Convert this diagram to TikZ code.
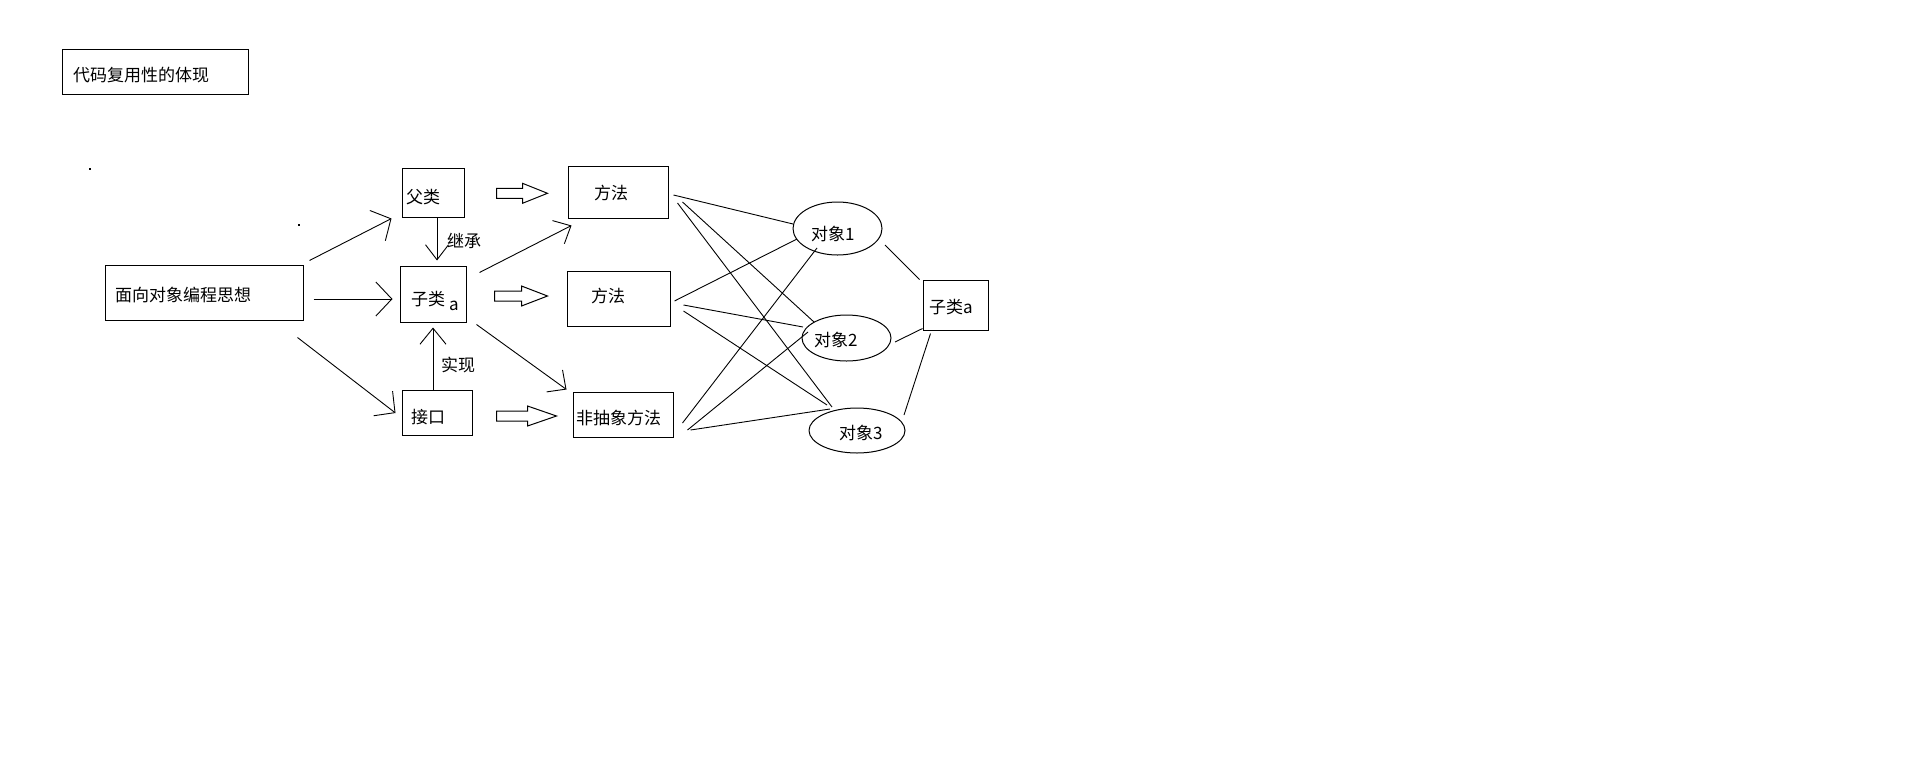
\documentclass[tikz,border=0pt]{standalone}
\usepackage{fontspec}
\setmainfont{Noto Sans CJK SC}
\usetikzlibrary{arrows.meta,calc,shapes.geometric}
\tikzset{pics/barrow/.style 2 args={code={\draw[line width=1pt] (0,-5) -- (#1,-5) -- (#1,-10) -- (#2,0) -- (#1,10) -- (#1,5) -- (0,5) -- cycle;}}}
\begin{document}
\begin{tikzpicture}[x=1pt,y=-1pt,
 box/.style={draw,line width=1pt,rectangle,inner sep=0pt},
 ell/.style={draw,line width=1pt,ellipse,inner sep=0pt},
 lbl/.style={anchor=base west,inner sep=0pt,font=\fontsize{17pt}{20pt}\selectfont},
 ln/.style={line width=0.9pt},
 arr/.style 2 args={ln,-{Straight Barb[length=#1pt,width=#2pt]}}]
\fill[white] (0,0) rectangle (1905,780);
\useasboundingbox (0,0) rectangle (1905,780);

% boxes
\node[box,minimum width=186pt,minimum height=45pt] (title) at (155,71.5) {};
\node[box,minimum width=62pt,minimum height=49pt] (fu) at (433,192.5) {};
\node[box,minimum width=198pt,minimum height=55pt] (mx) at (204,292.5) {};
\node[box,minimum width=66pt,minimum height=56pt] (zl) at (433,294) {};
\node[box,minimum width=70pt,minimum height=45pt] (jk) at (437,412.5) {};
\node[box,minimum width=100pt,minimum height=52pt] (m1) at (618,192) {};
\node[box,minimum width=103pt,minimum height=55pt] (m2) at (618.5,298.5) {};
\node[box,minimum width=100pt,minimum height=45pt] (m3) at (623,414.5) {};
\node[box,minimum width=65pt,minimum height=50pt] (zr) at (955.5,305) {};
\node[ell,minimum width=89pt,minimum height=53pt] (o1) at (837.5,228.5) {};
\node[ell,minimum width=89pt,minimum height=46pt] (o2) at (846.5,338) {};
\node[ell,minimum width=96pt,minimum height=45pt] (o3) at (857,430.5) {};

% texts
\node[lbl] (tTitle) at (73,81.5) {代码复用性的体现};
\node[lbl] (tFu) at (406,203.5) {父类};
\node[lbl] (tJc) at (447,247.5) {继承};
\node[lbl] (tMx) at (115,301) {面向对象编程思想};
\node[lbl] (tZl) at (411,305) {子类};
\node[lbl] (tZla) at (449,310) {a};
\node[lbl] (tSx) at (441,371) {实现};
\node[lbl] (tJk) at (411,423.5) {接口};
\node[lbl] (tM1) at (594,199) {方法};
\node[lbl] (tM2) at (591,302.5) {方法};
\node[lbl] (tM3) at (576,424) {非抽象方法};
\node[lbl] (tO1) at (811,240.5) {对象1};
\node[lbl] (tO2) at (814,346) {对象2};
\node[lbl] (tO3) at (839,439) {对象3};
\node[lbl] (tZr) at (929,313) {子类a};

% stray dots
\fill (89,168) rectangle (91,170);
\fill (298,224) rectangle (300,226);

% arrows
\draw[arr={15}{34}] ($(mx.north east)+(6,-4)$) -- ($(fu.south west)+(-10,1)$);
\draw[arr={16}{34}] ($(mx.east)+(10,6.5)$) -- ($(zl.west)+(-7,5)$);
\draw[arr={15}{31}] ($(mx.south east)+(-6,17)$) -- ($(jk.west)+(-6,0.5)$);
\draw[arr={15}{23}] ($(fu.south)+(4,0)$) -- ($(zl.north)+(4,-5)$);
\draw[arr={16}{26}] (jk.north -| zl.south) -- ($(zl.south)+(0,5)$);
\draw[arr={14}{26}] ($(zl.north east)+(13,7)$) -- ($(m1.south west)+(4,7)$);
\draw[arr={14}{27}] ($(zl.south east)+(10,2)$) -- ($(m3.north west)+(-6,-2)$);

% block arrows
\pic at ($(fu.east)+(32,0.8)$) {barrow={26}{51}};
\pic at ($(zl.east)+(28,2)$) {barrow={27}{53}};
\pic at ($(jk.east)+(24,3.5)$) {barrow={31}{60}};

% method -> object lines
\draw[ln] ($(m1.east)+(5,3)$) -- ($(o1)+(-44.5,-4.5)$);
\draw[ln] ($(m1.east)+(14,10)$) -- ($(o2)+(-32.5,-16)$);
\draw[ln] ($(m1.east)+(9,11)$) -- ($(o3)+(-25,-23.5)$);
\draw[ln] ($(m2.east)+(4,2.5)$) -- ($(o1)+(-40.5,10.5)$);
\draw[ln] ($(m2.east)+(13,6.5)$) -- ($(o2)+(-43.5,-11)$);
\draw[ln] ($(m2.east)+(13,12.5)$) -- ($(o3)+(-30,-25.5)$);
\draw[ln] ($(m3.east)+(9,8.5)$) -- ($(o1)+(-20.5,19.5)$);
\draw[ln] ($(m3.east)+(14,15.5)$) -- ($(o2)+(-38.5,-6)$);
\draw[ln] ($(m3.east)+(17,15.5)$) -- ($(o3)+(-27,-21.5)$);

% object -> subclass lines
\draw[ln] ($(o1)+(47.5,16.5)$) -- ($(zr.north west)+(-3,0)$);
\draw[ln] ($(o2)+(48.5,4)$) -- ($(zr.south west)+(0,-2)$);
\draw[ln] ($(o3)+(47,-15.5)$) -- ($(zr.south west)+(8,3)$);
\end{tikzpicture}
\end{document}
